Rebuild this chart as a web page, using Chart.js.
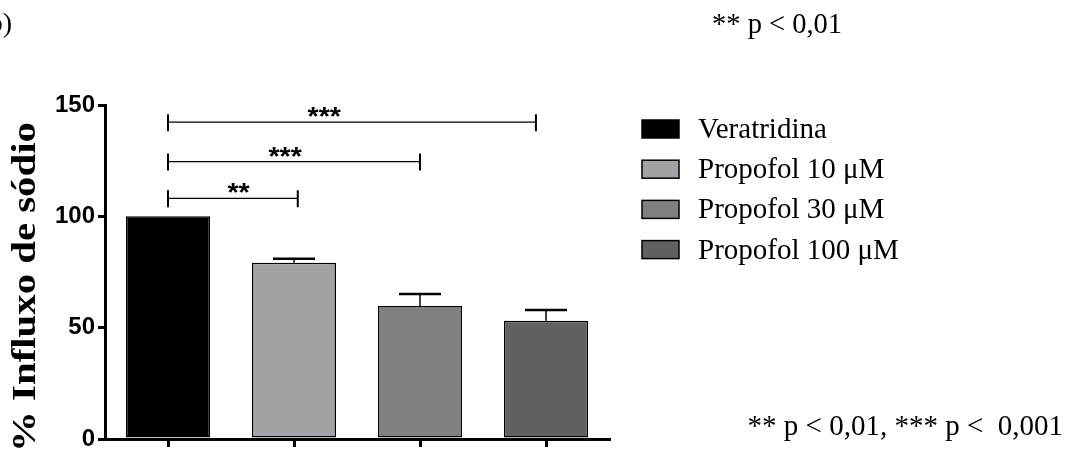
<!DOCTYPE html>
<html>
<head>
<meta charset="utf-8">
<script src="https://cdn.jsdelivr.net/npm/chart.js@4.4.0/dist/chart.umd.min.js"></script>
<style>
  html, body { margin: 0; padding: 0; background: #fff; }
  #wrap { position: relative; width: 1071px; height: 462px; }
</style>
</head>
<body>
<div id="wrap"><canvas id="influxChart" width="1071" height="462"></canvas></div>
<script>
// Data
const categories = ['Veratridina', 'Propofol 10 μM', 'Propofol 30 μM', 'Propofol 100 μM'];
const influx = [100, 79.2, 59.7, 53.1];
const sem = [0, 1.7, 5.4, 4.8];
const barColors = ['#000000', '#a3a2a6', '#808080', '#616161'];
const yTicks = [0, 50, 100, 150];

// Significance brackets (category index positions, value level, label)
const bracketFrom = [0, 0, 0];
const bracketTo = [1.03, 2.0, 2.92];
const bracketLevel = [108.1, 124.6, 142.3];
const bracketLabel = ['**', '***', '***'];
const bracketLabelAt = [0.56, 0.93, 1.24];

const yTitle = '% Influxo de sódio';
const panelLabel = '(b)';
const noteTop = '** p < 0,01';
const noteBottom = '** p < 0,01, *** p <  0,001';

const SERIF = '"Liberation Serif", "Times New Roman", Times, serif';

function drawText(ctx, text, x, y, font, align, sx) {
    ctx.save();
    ctx.translate(x, y);
    ctx.scale(sx, 1);
    ctx.font = font;
    ctx.textAlign = align;
    ctx.textBaseline = 'alphabetic';
    ctx.fillStyle = '#000';
    ctx.fillText(text, 0, 0);
    ctx.restore();
}

const extras = {
    id: 'extras',
    afterDatasetsDraw(chart) {
        const ctx = chart.ctx;
        const x = chart.scales.x;
        const y = chart.scales.y;
        const meta = chart.getDatasetMeta(0);

        // error bars (upper whisker only)
        ctx.save();
        ctx.strokeStyle = '#000';
        meta.data.forEach((bar, i) => {
            if (!sem[i]) return;
            const top = y.getPixelForValue(influx[i] + sem[i]);
            const capHalf = bar.width / 4;
            ctx.lineWidth = 1.5;
            ctx.beginPath();
            ctx.moveTo(bar.x, bar.y);
            ctx.lineTo(bar.x, top);
            ctx.stroke();
            ctx.lineWidth = 2.5;
            ctx.beginPath();
            ctx.moveTo(bar.x - capHalf, top);
            ctx.lineTo(bar.x + capHalf, top);
            ctx.stroke();
        });

        // significance brackets
        bracketLevel.forEach((lv, i) => {
            const x0 = x.getPixelForValue(bracketFrom[i]);
            const x1 = x.getPixelForValue(bracketTo[i]);
            const yy = y.getPixelForValue(lv);
            ctx.lineWidth = 1.3;
            ctx.beginPath();
            ctx.moveTo(x0, yy);
            ctx.lineTo(x1, yy);
            ctx.stroke();
            ctx.lineWidth = 2;
            ctx.beginPath();
            ctx.moveTo(x0, yy - 8);
            ctx.lineTo(x0, yy + 9);
            ctx.moveTo(x1, yy - 8);
            ctx.lineTo(x1, yy + 9);
            ctx.stroke();
            drawText(ctx, bracketLabel[i], x.getPixelForValue(bracketLabelAt[i]), yy + 3,
                'bold 26px "Liberation Sans", Arial, sans-serif', 'center', 1.1);
        });
        ctx.restore();
    },
    afterDraw(chart) {
        const ctx = chart.ctx;
        const area = chart.chartArea;

        // y axis title, rotated
        ctx.save();
        ctx.translate(35, 287);
        ctx.rotate(-Math.PI / 2);
        drawText(ctx, yTitle, 0, 0, 'bold 34px ' + SERIF, 'center', 1.2);
        ctx.restore();

        // legend
        const lx = area.right + 33;
        categories.forEach((c, i) => {
            const cy = 129 + i * 40.2;
            ctx.save();
            ctx.fillStyle = barColors[i];
            ctx.fillRect(lx, cy - 9, 37, 18);
            ctx.strokeStyle = '#000';
            ctx.lineWidth = 1.5;
            ctx.strokeRect(lx, cy - 9, 37, 18);
            ctx.restore();
            drawText(ctx, c, lx + 56, cy + 9, '29px ' + SERIF, 'left', 1);
        });

        // panel label and notes
        drawText(ctx, panelLabel, 12, 32, '28px ' + SERIF, 'right', 1);
        drawText(ctx, noteTop, 712, 33, '28.5px ' + SERIF, 'left', 1);
        drawText(ctx, noteBottom, 1063, 435, '29px ' + SERIF, 'right', 1);
    }
};

const ctx = document.getElementById('influxChart').getContext('2d');
new Chart(ctx, {
    type: 'bar',
    data: {
        labels: categories,
        datasets: [{
            data: influx,
            backgroundColor: barColors,
            borderColor: '#000',
            borderWidth: 1.5,
            borderSkipped: false,
            barPercentage: 0.667,
            categoryPercentage: 1.0
        }]
    },
    options: {
        responsive: false,
        animation: false,
        events: [],
        layout: {
            padding: { top: 105, right: 462, bottom: 0, left: 0 }
        },
        scales: {
            x: {
                grid: {
                    offset: false,
                    drawOnChartArea: false,
                    drawTicks: true,
                    tickLength: 8,
                    color: '#000',
                    lineWidth: 3
                },
                border: { display: true, color: '#000', width: 3 },
                ticks: { display: false },
                afterFit: (scale) => { scale.height = 23; }
            },
            y: {
                min: 0,
                max: 150,
                afterBuildTicks: (scale) => { scale.ticks = yTicks.map(v => ({ value: v })); },
                grid: {
                    drawOnChartArea: false,
                    drawTicks: true,
                    tickLength: 7,
                    color: '#000',
                    lineWidth: 3
                },
                border: { display: true, color: '#000', width: 3 },
                ticks: {
                    color: '#000',
                    padding: 3,
                    font: { family: '"Liberation Sans", Arial, sans-serif', size: 24, weight: 'bold' }
                },
                afterFit: (scale) => { scale.width = 105; }
            }
        },
        plugins: {
            legend: { display: false },
            tooltip: { enabled: false }
        }
    },
    plugins: [extras]
});
</script>
</body>
</html>
